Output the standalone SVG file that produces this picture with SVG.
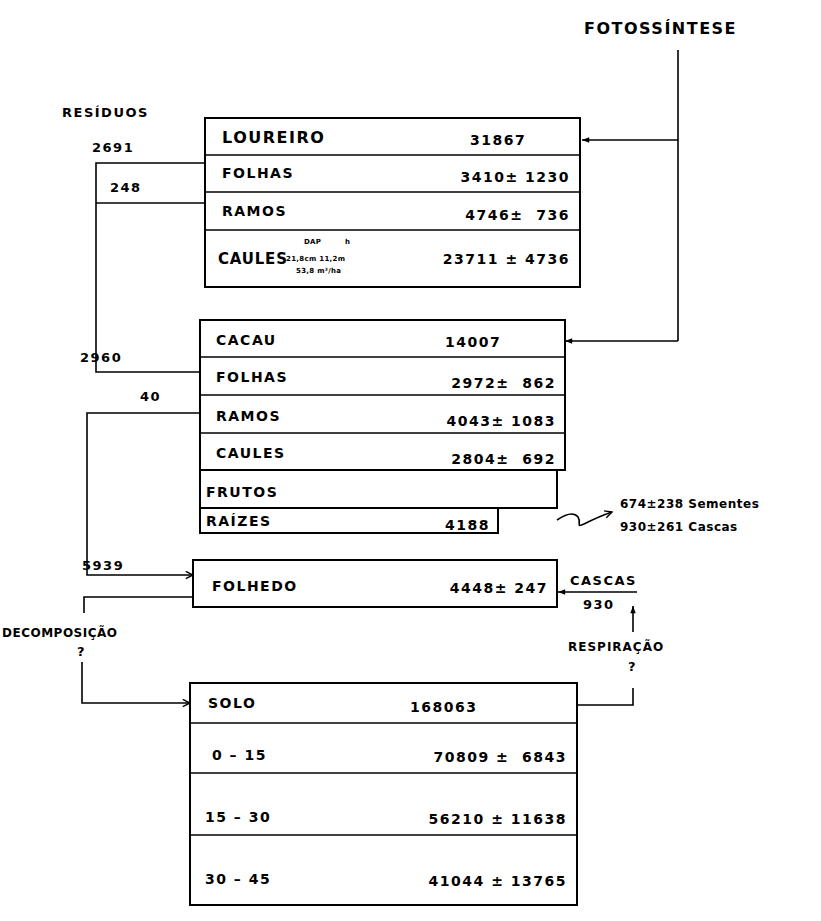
<svg xmlns="http://www.w3.org/2000/svg" width="821" height="921" viewBox="0 0 821 921">
<defs>
<marker id="arr" viewBox="0 0 10 10" refX="9" refY="5" markerWidth="9" markerHeight="9" markerUnits="userSpaceOnUse" orient="auto">
<path d="M1,1 L9,5 L1,9" fill="none" stroke="#000" stroke-width="1.6"/>
</marker>
<marker id="tick" viewBox="0 0 10 10" refX="9" refY="5" markerWidth="9" markerHeight="9" markerUnits="userSpaceOnUse" orient="auto">
<path d="M1,2 L9,5 L1,8 Z" fill="#000"/>
</marker>
</defs>
<style>
text{font-family:"DejaVu Sans","Liberation Sans",sans-serif;font-weight:bold;fill:#000;font-size:14px;letter-spacing:1.5px;white-space:pre}
.box{fill:#fff;stroke:#000;stroke-width:2}
.sep{stroke:#000;stroke-width:1.6}
.ln{fill:none;stroke:#000;stroke-width:1.6}
.r{text-anchor:end}
.s{font-size:7px;letter-spacing:0.3px}
.lab{font-size:13px}
</style>
<rect width="821" height="921" fill="#fff"/>

<g id="connectors">
<path class="ln" d="M678,50 V341"/>
<path class="ln" d="M678,140 H582" marker-end="url(#tick)"/>
<path class="ln" d="M678,341 H565" marker-end="url(#tick)"/>
<path class="ln" d="M205,163 H96 V372 H200"/>
<path class="ln" d="M96,203 H205"/>
<path class="ln" d="M200,413 H87 V575 H193" marker-end="url(#arr)"/>
<path class="ln" d="M557,520 C566,514 574,512 578,517 C582,523 575,528 584,524 C592,520 600,516 612,512" marker-end="url(#arr)"/>
<path class="ln" d="M637,592 H558" marker-end="url(#tick)"/>
<path class="ln" d="M193,597 H84 V613"/>
<path class="ln" d="M82,662 V703 H190" marker-end="url(#arr)"/>
<path class="ln" d="M577,705 H633 V688"/>
<path class="ln" d="M633,632 V606" marker-end="url(#tick)"/>
</g>

<g id="fotossintese"><text x="584" y="34" style="font-size:16px">FOTOSSÍNTESE</text></g>
<g id="residuos"><text x="62" y="117" class="lab">RESÍDUOS</text></g>

<g id="loureiro">
<rect class="box" x="205" y="118" width="375" height="169"/>
<line class="sep" x1="205" y1="155" x2="580" y2="155"/>
<line class="sep" x1="205" y1="192" x2="580" y2="192"/>
<line class="sep" x1="205" y1="230" x2="580" y2="230"/>
<text x="222" y="143" style="font-size:16px">LOUREIRO</text>
<text x="470" y="145">31867</text>
<text x="222" y="178">FOLHAS</text>
<text x="570" y="182" class="r">3410± 1230</text>
<text x="222" y="216">RAMOS</text>
<text x="570" y="220" class="r">4746±  736</text>
<text x="218" y="264" style="font-size:15px;letter-spacing:0.8px">CAULES</text>
<text x="304" y="244" class="s">DAP</text>
<text x="345" y="244" class="s">h</text>
<text x="286" y="261" class="s">21,8cm 11,2m</text>
<text x="296" y="273" class="s">53,8 m³/ha</text>
<text x="570" y="264" class="r">23711 ± 4736</text>
</g>

<g id="fluxos-loureiro">
<text x="92" y="152" class="lab">2691</text>
<text x="110" y="192" class="lab">248</text>
<text x="80" y="362" class="lab">2960</text>
<text x="140" y="401" class="lab">40</text>
<text x="82" y="570" class="lab">5939</text>
</g>

<g id="cacau">
<rect class="box" x="200" y="508" width="298" height="25"/>
<rect class="box" x="200" y="320" width="365" height="150"/>
<rect class="box" x="200" y="470" width="357" height="38"/>
<line class="sep" x1="200" y1="357" x2="565" y2="357"/>
<line class="sep" x1="200" y1="395" x2="565" y2="395"/>
<line class="sep" x1="200" y1="433" x2="565" y2="433"/>
<text x="216" y="345">CACAU</text>
<text x="445" y="347">14007</text>
<text x="216" y="382">FOLHAS</text>
<text x="556" y="388" class="r">2972±  862</text>
<text x="216" y="421">RAMOS</text>
<text x="556" y="426" class="r">4043± 1083</text>
<text x="216" y="458">CAULES</text>
<text x="556" y="464" class="r">2804±  692</text>
<text x="206" y="497">FRUTOS</text>
<text x="206" y="526">RAÍZES</text>
<text x="490" y="530" class="r">4188</text>
</g>

<g id="frutos-saida">
<text x="620" y="508" style="font-size:12px;letter-spacing:0.5px">674±238 Sementes</text>
<text x="620" y="531" style="font-size:12px;letter-spacing:0.5px">930±261 Cascas</text>
</g>

<g id="folhedo">
<rect class="box" x="193" y="560" width="364" height="47"/>
<text x="212" y="591">FOLHEDO</text>
<text x="548" y="593" class="r">4448± 247</text>
</g>

<g id="cascas">
<text x="570" y="585" class="lab">CASCAS</text>
<text x="583" y="609" class="lab">930</text>
</g>

<g id="decomposicao">
<text x="2" y="637" style="font-size:12px;letter-spacing:0.5px">DECOMPOSIÇÃO</text>
<text x="77" y="656" style="font-size:13px">?</text>
</g>

<g id="solo">
<rect class="box" x="190" y="683" width="387" height="222"/>
<line class="sep" x1="190" y1="723" x2="577" y2="723"/>
<line class="sep" x1="190" y1="773" x2="577" y2="773"/>
<line class="sep" x1="190" y1="835" x2="577" y2="835"/>
<text x="208" y="708">SOLO</text>
<text x="410" y="712">168063</text>
<text x="212" y="760">0 – 15</text>
<text x="567" y="762" class="r">70809 ±  6843</text>
<text x="205" y="822">15 – 30</text>
<text x="567" y="824" class="r">56210 ± 11638</text>
<text x="205" y="884">30 – 45</text>
<text x="567" y="886" class="r">41044 ± 13765</text>
</g>

<g id="respiracao">
<text x="568" y="651" style="font-size:12px;letter-spacing:1px">RESPIRAÇÃO</text>
<text x="628" y="671" style="font-size:13px">?</text>
</g>
</svg>
